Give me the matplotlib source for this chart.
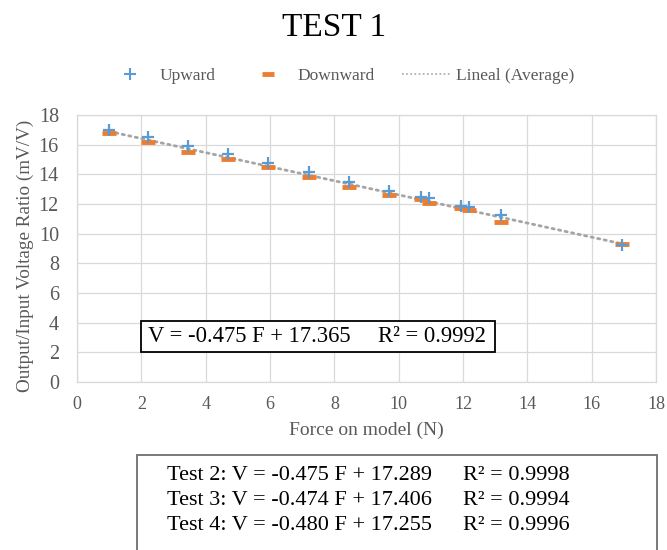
import matplotlib
matplotlib.use("Agg")
import matplotlib.pyplot as plt
from matplotlib.lines import Line2D
from matplotlib.patches import Rectangle

plt.rcParams["font.family"] = ["Liberation Serif", "DejaVu Serif"]

W, H = 667, 550

# Test 1 readings: applied force and output/input ratio for both directions
force    = [1.0, 2.2, 3.45, 4.7, 5.95, 7.2, 8.45, 9.7, 10.68, 10.94, 11.94, 12.2, 13.19, 16.93]
upward   = [16.99, 16.54, 15.93, 15.35, 14.79, 14.18, 13.47, 12.90, 12.50, 12.39, 11.87, 11.83, 11.27, 9.25]
downward = [16.77, 16.20, 15.53, 15.02, 14.48, 13.80, 13.13, 12.61, 12.34, 12.05, 11.72, 11.60, 10.77, 9.29]

# linear fit of the average (test 1) and the other tests
fit_slope, fit_intercept, fit_r2 = -0.475, 17.365, 0.9992
test_names      = ["Test 2", "Test 3", "Test 4"]
test_slopes     = [-0.475, -0.474, -0.480]
test_intercepts = [17.289, 17.406, 17.255]
test_r2         = [0.9998, 0.9994, 0.9996]

BLUE   = "#5B9BD5"
ORANGE = "#ED7D31"
GRID   = "#D9D9D9"
TXT    = "#595959"


def fx(x):
    return x / W


def fy(y):
    return 1 - y / H


fig = plt.figure(figsize=(W / 100, H / 100), dpi=100)
ax = fig.add_axes([fx(77), fy(382), fx(656) - fx(77), fy(115) - fy(382)])

ax.plot(force, downward, linestyle="none", marker="_", color=ORANGE,
        markersize=10, markeredgewidth=3.5, zorder=3)
ax.plot(force, upward, linestyle="none", marker="+", color=BLUE,
        markersize=9, markeredgewidth=1.6, zorder=4)

x0, x1 = min(force), max(force)
ax.plot([x0, x1], [fit_slope * x0 + fit_intercept, fit_slope * x1 + fit_intercept],
        color="#A5A5A5", linewidth=2, linestyle=(0, (0.8, 1.6)),
        dash_capstyle="round", zorder=2)

ax.set_xlim(0, 18)
ax.set_ylim(0, 18)
ax.set_xticks(range(0, 19, 2))
ax.set_yticks(range(0, 19, 2))
ax.grid(True, color=GRID, linewidth=0.9)
ax.set_axisbelow(True)
for s in ax.spines.values():
    s.set_color(GRID)
    s.set_linewidth(0.9)
ax.tick_params(axis="both", length=0, colors=TXT)
ax.tick_params(axis="x", labelsize=13, pad=10)
ax.tick_params(axis="y", labelsize=14.5, pad=13)
ax.set_xlabel("Force on model (N)", fontsize=14, color=TXT, labelpad=6)
ax.set_ylabel("Output/Input Voltage Ratio (mV/V)", fontsize=13.8, color=TXT)
ax.yaxis.set_label_coords(-0.075, 0.473)

fig.text(fx(334), fy(28), "TEST 1", fontsize=24, ha="center", va="center")

handles = [
    Line2D([], [], linestyle="none", marker="+", color=BLUE, markersize=8, markeredgewidth=1.5),
    Line2D([], [], linestyle="none", marker="_", color=ORANGE, markersize=9, markeredgewidth=3.5),
    Line2D([], [], color="#A5A5A5", linewidth=1.2, linestyle=(0, (1, 1.5))),
]
fig.legend(handles, ["Upward", "Downward", "Lineal (Average)"],
           loc="center", bbox_to_anchor=(fx(340), fy(76)), ncol=3,
           frameon=False, fontsize=12.5, labelcolor=TXT,
           handlelength=2.8, columnspacing=1.6, handletextpad=0.3)

# equation box inside the plot area
fig.add_artist(Rectangle((fx(141), fy(352)), fx(495) - fx(141), fy(321) - fy(352),
                         transform=fig.transFigure, facecolor="white",
                         edgecolor="black", linewidth=1.3, zorder=5))
fig.text(fx(148), fy(336), f"V = {fit_slope:.3f} F + {fit_intercept:.3f}",
         fontsize=16.3, ha="left", va="center", zorder=6)
fig.text(fx(378), fy(336), f"R² = {fit_r2:.4f}",
         fontsize=16.3, ha="left", va="center", zorder=6)

# summary box for the remaining tests
fig.add_artist(Rectangle((fx(137), fy(560)), fx(657) - fx(137), fy(455) - fy(560),
                         transform=fig.transFigure, facecolor="white",
                         edgecolor="#6E6E6E", linewidth=1.3, clip_on=False))
for i, name in enumerate(test_names):
    y = 475 + i * 25.5
    fig.text(fx(167), fy(y), f"{name}: V = {test_slopes[i]:.3f} F + {test_intercepts[i]:.3f}",
             fontsize=16, ha="left", va="center")
    fig.text(fx(463), fy(y), f"R² = {test_r2[i]:.4f}",
             fontsize=16, ha="left", va="center")

fig.savefig("out.png", dpi=100)
